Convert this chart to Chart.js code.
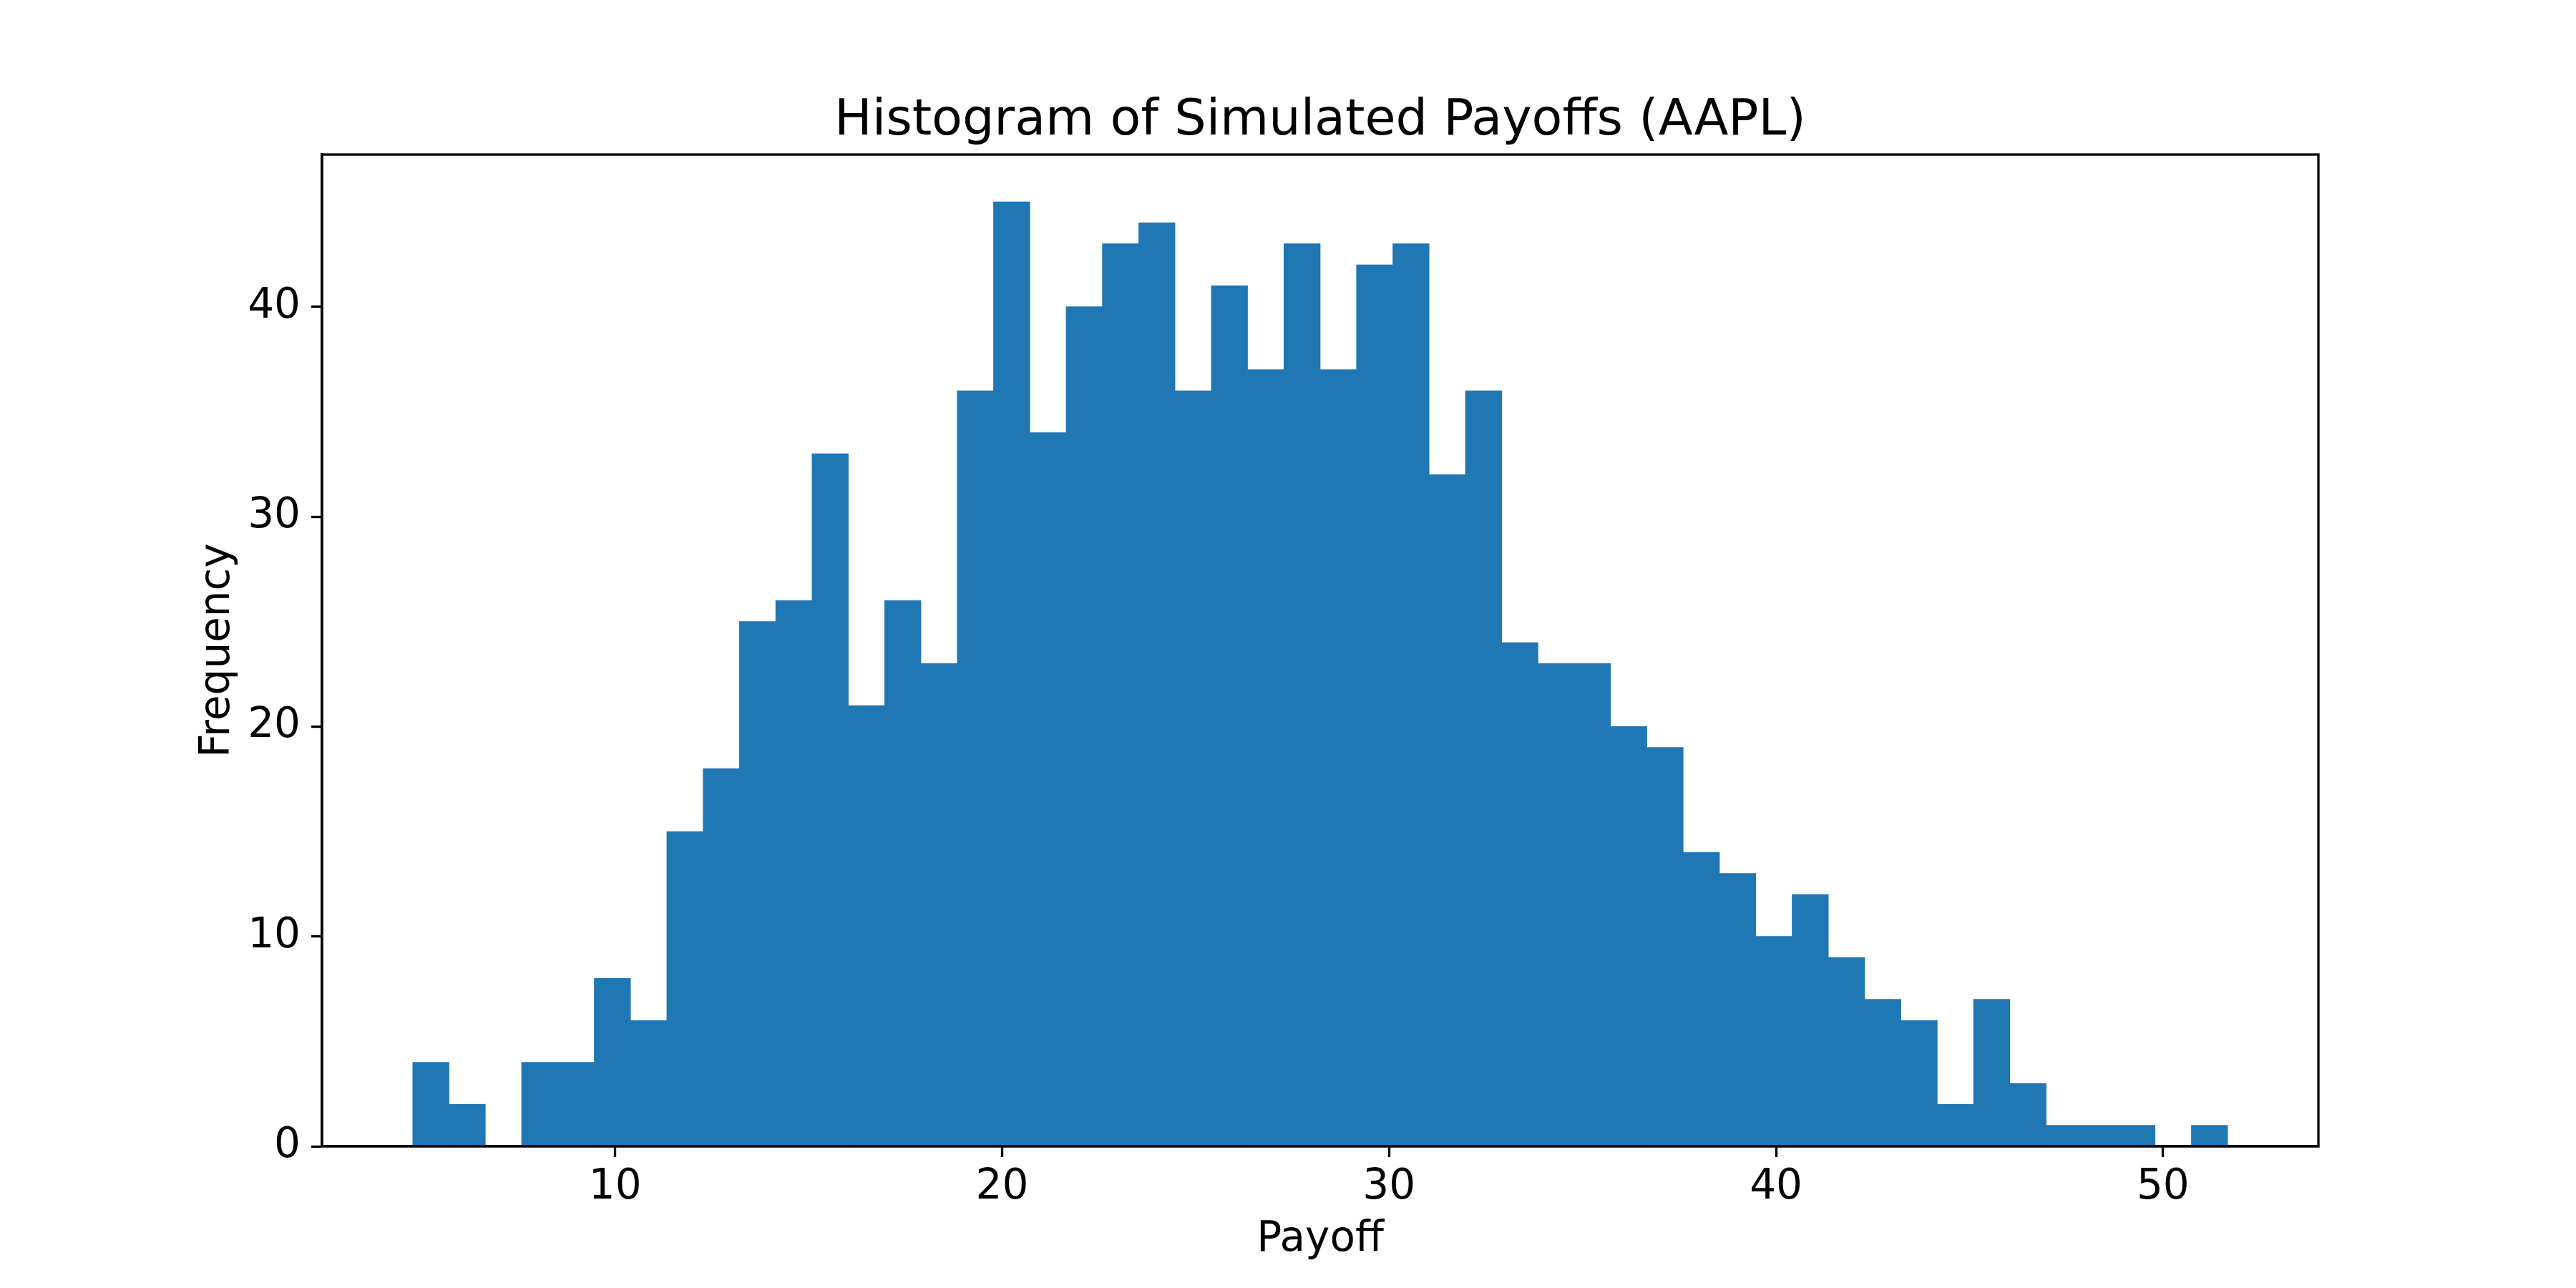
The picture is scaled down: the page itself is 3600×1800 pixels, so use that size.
<!DOCTYPE html>
<html>
<head>
<meta charset="utf-8">
<script src="https://cdn.jsdelivr.net/npm/chart.js@4.4.1/dist/chart.umd.min.js"></script>
<style>
  html, body { margin: 0; padding: 0; background: #ffffff; }
  #wrap { width: 3600px; height: 1800px; }
</style>
</head>
<body>
<div id="wrap"><canvas id="c" width="3600" height="1800"></canvas></div>
<script>
// ---- data ----
const binStart = 4.77;      // left edge of first bin
const binWidth = 0.938;     // width of each bin
const counts = [4, 2, 0, 4, 4, 8, 6, 15, 18, 25,
                26, 33, 21, 26, 23, 36, 45, 34, 40, 43,
                44, 36, 41, 37, 43, 37, 42, 43, 32, 36,
                24, 23, 23, 20, 19, 14, 13, 10, 12, 9,
                7, 6, 2, 7, 3, 1, 1, 1, 0, 1];
const xTickValues = [10, 20, 30, 40, 50];
const yTickValues = [0, 10, 20, 30, 40];
const titleText = 'Histogram of Simulated Payoffs (AAPL)';
const xLabel = 'Payoff';
const yLabel = 'Frequency';

// ---- derived for the library ----
const points = counts.map((c, i) => ({ x: binStart + binWidth * (i + 0.5), y: c }));
const dataMin = binStart, dataMax = binStart + binWidth * counts.length;
const span = dataMax - dataMin;
const xMin = dataMin - 0.05 * span, xMax = dataMax + 0.05 * span;
const yMax = Math.max(...counts) * 1.05;

const FONT = 'DejaVu Sans';
const LW = 3.33;

const framePlugin = {
  id: 'frame',
  afterDatasetsDraw(chart) {
    const a = chart.chartArea, ctx = chart.ctx;
    ctx.save();
    ctx.strokeStyle = '#000';
    ctx.lineWidth = LW;
    ctx.strokeRect(a.left, a.top, a.right - a.left, a.bottom - a.top);
    ctx.restore();
  }
};

new Chart(document.getElementById('c'), {
  type: 'bar',
  data: {
    datasets: [{
      data: points,
      backgroundColor: '#1f77b4',
      borderWidth: 0,
      barPercentage: 1.0,
      categoryPercentage: 1.0
    }]
  },
  options: {
    responsive: false,
    animation: false,
    devicePixelRatio: 1,
    layout: { padding: { left: 0, right: 360, top: 0, bottom: 0 } },
    plugins: {
      legend: { display: false },
      tooltip: { enabled: false },
      title: {
        display: true,
        text: titleText,
        fullSize: false,
        color: '#000',
        font: { family: FONT, size: 70, weight: 'normal' },
        padding: { top: 128, bottom: 4 }
      }
    },
    scales: {
      x: {
        type: 'linear',
        offset: false,
        min: xMin,
        max: xMax,
        afterBuildTicks: s => { s.ticks = xTickValues.map(v => ({ value: v })); },
        afterFit: s => { s.height = 198; },
        grid: { display: true, offset: false, drawOnChartArea: false, drawTicks: true,
                tickLength: 15, tickWidth: LW, tickColor: '#000' },
        border: { display: true, color: '#000', width: LW },
        ticks: { color: '#000', font: { family: FONT, size: 58 }, padding: 8,
                 maxRotation: 0, autoSkip: false, callback: v => String(v) },
        title: { display: true, text: xLabel, color: '#000',
                 font: { family: FONT, size: 58 }, padding: { top: 32, bottom: 32 } }
      },
      y: {
        type: 'linear',
        min: 0,
        max: yMax,
        afterBuildTicks: s => { s.ticks = yTickValues.map(v => ({ value: v })); },
        afterFit: s => { s.width = 450; },
        grid: { display: true, drawOnChartArea: false, drawTicks: true,
                tickLength: 15, tickWidth: LW, tickColor: '#000' },
        border: { display: true, color: '#000', width: LW },
        ticks: { color: '#000', font: { family: FONT, size: 58 }, padding: 15,
                 callback: v => String(v) },
        title: { display: true, text: yLabel, color: '#000',
                 font: { family: FONT, size: 58 }, padding: { top: 270, bottom: 0 } }
      }
    }
  },
  plugins: [framePlugin]
});
</script>
</body>
</html>
